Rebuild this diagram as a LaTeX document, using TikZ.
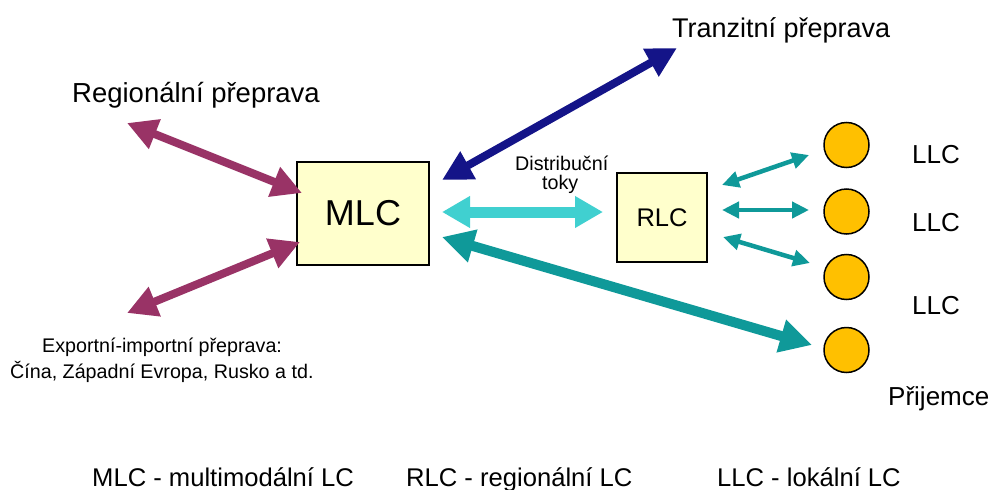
\documentclass[tikz,border=0pt]{standalone}
\usepackage{fontspec}
\setmainfont{Liberation Sans}
\usetikzlibrary{arrows.meta}
\definecolor{cpurple}{HTML}{993366}
\definecolor{cnavy}{HTML}{141488}
\definecolor{ccyan}{HTML}{40D0D0}
\definecolor{cteal}{HTML}{0F9999}
\definecolor{cbox}{HTML}{FFFFCC}
\definecolor{ccirc}{HTML}{FFC000}
\newcommand{\fs}[1]{\fontsize{#1}{#1}\selectfont}
\tikzset{
  centre/.style={draw=black, line width=1.5pt, fill=cbox, inner sep=0pt},
  llc/.style={circle, draw=black, line width=1.5pt, fill=ccirc, minimum size=45pt, inner sep=0pt},
  lbl/.style={anchor=base west, inner sep=0pt},
  bigarrow/.style={line width=8pt, {Triangle[length=30pt,width=30pt]}-{Triangle[length=30pt,width=30pt]}},
  cyanarrow/.style={draw=ccyan, line width=11pt, {Triangle[length=28pt,width=30pt]}-{Triangle[length=28pt,width=30pt]}},
  tealarrow/.style={draw=cteal, line width=10pt, {Triangle[length=32pt,width=32pt]}-{Triangle[length=32pt,width=32pt]}},
  smallarrow/.style={draw=cteal, line width=4.5pt, {Triangle[length=17pt,width=16pt]}-{Triangle[length=17pt,width=16pt]}}
}
\begin{document}
\begin{tikzpicture}[x=1pt,y=-1pt]
\useasboundingbox (0,0) rectangle (991,490);
% boxes
\node[centre, minimum width=132pt, minimum height=103pt] (mlc) at (363,213.5) {\fs{36}MLC};
\node[centre, minimum width=90pt, minimum height=89pt] (rlc) at (662,217.5) {\fs{25.5}RLC};
% circles
\node[llc] (c1) at (846.5,145) {};
\node[llc] (c2) at (846.5,211.5) {};
\node[llc] (c3) at (846.5,277) {};
\node[llc] (c4) at (846.5,350) {};
% labels
\node[lbl] (tranz) at (672,37) {\fs{27}Tranzitní přeprava};
\node[lbl] (reg) at (72,102) {\fs{27.5}Regionální přeprava};
\node[lbl] (llc1) at (912,163) {\fs{26}LLC};
\node[lbl] (llc2) at (912,231) {\fs{26}LLC};
\node[lbl] (llc3) at (912,314) {\fs{26}LLC};
\node[lbl] (prij) at (888,405) {\fs{26}Přijemce};
\node[lbl] (exp1) at (42,352) {\fs{19.7}Exportní-importní přeprava:};
\node[lbl] (exp2) at (10,378) {\fs{19.7}Čína, Západní Evropa, Rusko a td.};
\node[lbl] (dist1) at (515,170) {\fs{19.7}Distribuční};
\node[lbl] (dist2) at (542,189) {\fs{19.7}toky};
\node[lbl] (leg1) at (92,486) {\fs{25.6}MLC - multimodální LC};
\node[lbl] (leg2) at (406,486) {\fs{25.6}RLC - regionální LC};
\node[lbl] (leg3) at (717,486) {\fs{25.6}LLC - lokální LC};
% arrow end points
\coordinate (regE) at (127,123);
\coordinate (mlcA) at (302,193);
\coordinate (expE) at (127,313);
\coordinate (mlcB) at (300,242);
\coordinate (tranE) at (677,48);
\coordinate (mlcC) at (442,180);
\coordinate (mlcD) at (442,212);
\coordinate (rlcA) at (603,212);
\coordinate (mlcE) at (442,237);
\coordinate (c4A) at (812,345);
\coordinate (rlc1) at (722,185);
\coordinate (c1A) at (809,155);
\coordinate (rlc2) at (722,210);
\coordinate (c2A) at (809,210);
\coordinate (rlc3) at (723,237);
\coordinate (c3A) at (810,263);
% arrows
\draw[bigarrow, draw=cpurple, fill=cpurple] (regE) -- (mlcA);
\draw[bigarrow, draw=cpurple, fill=cpurple] (expE) -- (mlcB);
\draw[bigarrow, draw=cnavy, fill=cnavy] (tranE) -- (mlcC);
\draw[cyanarrow] (mlcD) -- (rlcA);
\draw[tealarrow] (mlcE) -- (c4A);
\draw[smallarrow] (rlc1) -- (c1A);
\draw[smallarrow] (rlc2) -- (c2A);
\draw[smallarrow] (rlc3) -- (c3A);
\end{tikzpicture}
\end{document}
